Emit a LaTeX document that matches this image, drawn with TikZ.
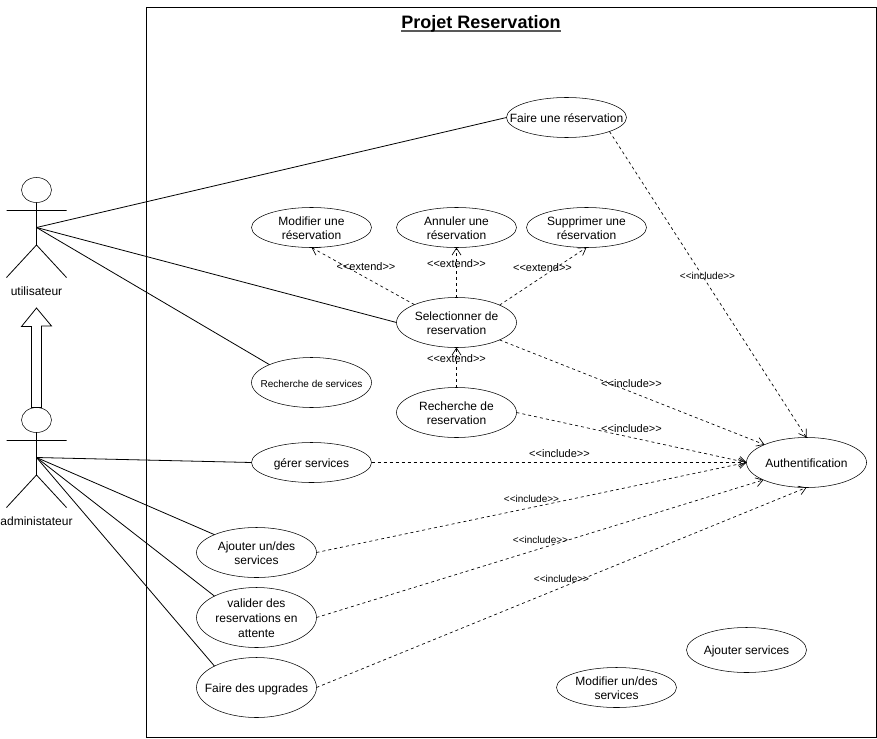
\documentclass[tikz,border=0pt]{standalone}
\usepackage{fontspec}
\setmainfont{Liberation Sans}
\usetikzlibrary{shapes.geometric,arrows.meta}
\newcommand{\uctext}[1]{\raisebox{-3.8pt}[0pt][0pt]{\makebox[0pt]{\begin{tabular}{@{}c@{}}#1\end{tabular}}}}
\newcommand{\titleline}[1]{\underline{#1}}
\tikzset{
  usecase/.style={draw=black,fill=white,ellipse,inner sep=0pt,outer sep=0pt,minimum width=90pt,minimum height=#1,font=\fontsize{9}{10.9}\selectfont},
  actorhead/.style={draw=black,fill=white,ellipse,inner sep=0pt,outer sep=0pt,minimum width=22.5pt,minimum height=18.75pt},
  actorline/.style={draw=black,line width=0.6pt},
  assoc/.style={draw=black,line width=0.6pt},
  dep/.style={draw=black,line width=0.5pt,dash pattern=on 2.25pt off 2.25pt,-{Straight Barb[length=5.25pt,width=6.75pt]}},
  deplabel/.style={inner sep=0pt,font=\fontsize{#1}{10}\selectfont},
  deplabel/.default=8.25,
  plain/.style={inner sep=0pt,font=\fontsize{9}{10.9}\selectfont}
}
\begin{document}
\begin{tikzpicture}[x=0.75pt,y=-0.75pt]
\useasboundingbox (0,0) rectangle (877,738);
\coordinate (frameA) at (146.5,7.5);
\coordinate (frameB) at (876.5,737.5);
\draw[line width=0.75pt] (frameA) rectangle (frameB);
\node[inner sep=0pt,anchor=base,font=\fontsize{13.5}{15}\selectfont\bfseries] (title) at (481,28.5) {Projet Reservation};
\draw[line width=0.9pt] (title.base west) ++(0,2.5) -- ([yshift=-1.9pt]title.base east);

% use cases
\node[usecase=30pt] (faire) at (566.5,117.5) {\uctext{Faire une réservation}};
\node[usecase=30pt] (modif) at (311.5,227.5) {\uctext{Modifier une\\réservation}};
\node[usecase=30pt] (annul) at (456.5,227.5) {\uctext{Annuler une\\réservation}};
\node[usecase=30pt] (suppr) at (586.5,227.5) {\uctext{Supprimer une\\réservation}};
\node[usecase=37.5pt] (select) at (456.5,322.5) {\uctext{Selectionner de\\reservation}};
\node[usecase=37.5pt,font=\fontsize{7.5}{9}\selectfont] (rservices) at (311.5,382.5) {\uctext{Recherche de services}};
\node[usecase=37.5pt] (rreserv) at (456.5,412.5) {\uctext{Recherche de\\reservation}};
\node[usecase=30pt] (gerer) at (311.5,462.5) {\uctext{gérer services}};
\node[usecase=37.5pt] (auth) at (806.5,462.5) {\uctext{Authentification}};
\node[usecase=37.5pt] (ajout) at (256.5,552.5) {\uctext{Ajouter un/des\\services}};
\node[usecase=45pt] (valid) at (256.5,617.5) {\uctext{valider des\\reservations en\\attente}};
\node[usecase=45pt] (upgr) at (256.5,687.5) {\uctext{Faire des upgrades}};
\node[usecase=33.75pt] (ajserv) at (746.5,650) {\uctext{Ajouter services}};
\node[usecase=30pt] (modserv) at (616.5,687.5) {\uctext{Modifier un/des\\services}};

% generalisation arrow
\coordinate (gtip) at (36.5,308);
\node[actorhead] (head2) at (36.5,420) {};
\draw[line width=0.6pt,fill=white] ([xshift=-3.75pt]head2.north) -- ++(0,-81) -- ++(-10,0) -- (gtip) -- ++(15,18) -- ++(-10,0) -- ([xshift=3.75pt]head2.north) -- cycle;

% actor utilisateur
\node[actorhead] (head1) at (36.5,190) {};
\coordinate (arm1L) at (6.5,210.5);
\coordinate (arm1R) at (66.5,210.5);
\coordinate (hub1) at (36.5,227.5);
\coordinate (hip1) at (36.5,245);
\coordinate (leg1L) at (6.5,277.5);
\coordinate (leg1R) at (66.5,277.5);
\draw[actorline] (head1) -- (hip1) (arm1L) -- (arm1R) (leg1L) -- (hip1) -- (leg1R);
\node[plain] (lab1) at (36.5,291) {utilisateur};

% actor administateur
\coordinate (arm2L) at (6.5,440.5);
\coordinate (arm2R) at (66.5,440.5);
\coordinate (hub2) at (36.5,457.5);
\coordinate (hip2) at (36.5,475);
\coordinate (leg2L) at (6.5,507.5);
\coordinate (leg2R) at (66.5,507.5);
\draw[actorline] (head2) -- (hip2) (arm2L) -- (arm2R) (leg2L) -- (hip2) -- (leg2R);
\node[plain] (lab2) at (36.5,521) {administateur};

% associations
\draw[assoc] (hub1) -- (faire.west);
\draw[assoc] (hub1) -- (select.west);
\draw[assoc] (hub1) -- (rservices.157.38);
\draw[assoc] (hub2) -- (gerer.west);
\draw[assoc] (hub2) -- (ajout.157.38);
\draw[assoc] (hub2) -- (valid.153.43);
\draw[assoc] (hub2) -- (upgr.153.43);

% dependencies
\draw[dep] (select.157.38) -- (modif.south);
\draw[dep] (select.north) -- (annul.south);
\draw[dep] (select.22.62) -- (suppr.south);
\draw[dep] (rreserv.north) -- (select.south);
\draw[dep] (faire.-18.43) -- (auth.north);
\draw[dep] (select.-22.62) -- (auth.157.38);
\draw[dep] (rreserv.east) -- (auth.west);
\draw[dep] (gerer.east) -- (auth.west);
\draw[dep] (ajout.east) -- (auth.west);
\draw[dep] (valid.east) -- (auth.202.62);
\draw[dep] (upgr.east) -- (auth.south);

% labels
\node[deplabel] (e1) at (366,267) {<{}<extend>{}>};
\node[deplabel] (e2) at (456.5,264) {<{}<extend>{}>};
\node[deplabel] (e3) at (542.5,268) {<{}<extend>{}>};
\node[deplabel] (e4) at (456.5,359) {<{}<extend>{}>};
\node[deplabel=7.5] (i1) at (707.5,276) {<{}<include>{}>};
\node[deplabel] (i2) at (631.5,384) {<{}<include>{}>};
\node[deplabel] (i3) at (631.5,429) {<{}<include>{}>};
\node[deplabel] (i4) at (559.5,454) {<{}<include>{}>};
\node[deplabel=7.5] (i5) at (531.5,499) {<{}<include>{}>};
\node[deplabel=7.5] (i6) at (540.5,540) {<{}<include>{}>};
\node[deplabel=7.5] (i7) at (561.5,579) {<{}<include>{}>};
\end{tikzpicture}
\end{document}
